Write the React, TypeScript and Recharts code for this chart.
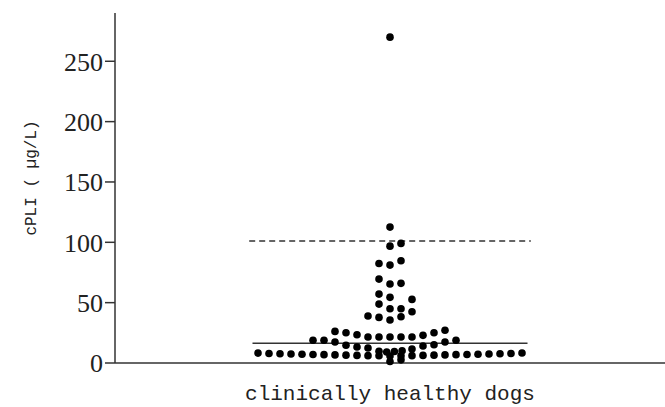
import React from 'react';
import { ScatterChart, Scatter, XAxis, YAxis, ReferenceLine } from 'recharts';

// Beeswarm column: slot = horizontal offset (in dot widths) from the column centre
const upperSlots = [0, 0, 0, 1, -1, 0, 1, -1, 0, 1, -1, 0, 2, -1, 0, 1, 2, -2, -1, 0, 1];
const upperValues = [270, 112.6, 96.8, 99.1, 82.5, 81.1, 84.7, 69.5, 65.4, 66.0, 57.1, 54.4, 52.7, 48.8, 45.0, 45.0, 42.5, 38.9, 37.8, 35.6, 38.3];

const bandSlots = [-5, -4, -3, -2, -1, 0, 1, 2, 3, 4, 5, -7, -6, -5, 5, 6, -4, -3, -2, 3, 4, -1, -0.3, 0.4, 1.1, 2];
const bandValues = [26.2, 25.1, 23.4, 21.5, 21.5, 21.5, 21.5, 21.5, 22.9, 25.1, 27.1, 18.8, 18.8, 17.4, 17.4, 18.8, 14.7, 13.2, 12.4, 14.1, 15.1, 9.7, 9.1, 9.5, 10.2, 11.6];

const baseSlots = [-12, -11, -10, -9, -8, -7, -6, -5, -4, -3, -2, -1, 0, 1, 2, 3, 4, 5, 6, 7, 8, 9, 10, 11, 12, 0, 1];
const baseValues = [8.2, 7.9, 7.7, 7.5, 7.3, 7.1, 6.9, 6.7, 6.5, 6.3, 6.1, 6.0, 5.8, 6.0, 6.1, 6.3, 6.5, 6.7, 6.9, 7.1, 7.3, 7.5, 7.7, 7.9, 8.3, 1.2, 2.6];

const yTicks = [0, 50, 100, 150, 200, 250];
const medianValue = 16.3;
const upperLimitValue = 101;
const medianSpan = [-12.5, 12.5];
const limitSpan = [-12.8, 12.8];

const zip = (s: number[], v: number[]) => s.map((x, i) => ({ x, y: v[i] }));
const points = [...zip(upperSlots, upperValues), ...zip(bandSlots, bandValues), ...zip(baseSlots, baseValues)];

const Dot = (props: any) => <circle cx={props.cx} cy={props.cy} r={3.8} fill="#000" />;

export default function App() {
  return (
    <div style={{ position: 'absolute', left: 0, top: 0, background: '#fff' }}>
      <ScatterChart width={665} height={407} margin={{ top: 13, right: 0, bottom: 0, left: 0 }}>
        <XAxis
          type="number"
          dataKey="x"
          domain={[-25, 25]}
          height={44}
          tick={false}
          tickLine={false}
          axisLine={{ stroke: '#333', strokeWidth: 1.5 }}
          label={{
            value: 'clinically healthy dogs',
            position: 'insideBottom',
            offset: 7,
            style: { fontFamily: 'Liberation Mono', fontSize: 21, fill: '#222' },
          }}
        />
        <YAxis
          type="number"
          dataKey="y"
          domain={[0, 290]}
          ticks={yTicks}
          width={115}
          tickSize={10}
          tickLine={{ stroke: '#333', strokeWidth: 1.5 }}
          axisLine={{ stroke: '#333', strokeWidth: 1.5 }}
          tick={{ fontFamily: 'Liberation Serif', fontSize: 26, fill: '#222' }}
          label={{
            value: 'cPLI ( µg/L)',
            angle: -90,
            position: 'insideLeft',
            offset: 30,
            dy: -10,
            style: { textAnchor: 'middle', fontFamily: 'Liberation Mono', fontSize: 16, fill: '#222' },
          }}
        />
        <ReferenceLine
          segment={[{ x: limitSpan[0], y: upperLimitValue }, { x: limitSpan[1], y: upperLimitValue }]}
          stroke="#333"
          strokeWidth={1.5}
          strokeDasharray="6 4"
        />
        <ReferenceLine
          segment={[{ x: medianSpan[0], y: medianValue }, { x: medianSpan[1], y: medianValue }]}
          stroke="#333"
          strokeWidth={1.5}
        />
        <Scatter data={points} shape={Dot} isAnimationActive={false} />
      </ScatterChart>
    </div>
  );
}
